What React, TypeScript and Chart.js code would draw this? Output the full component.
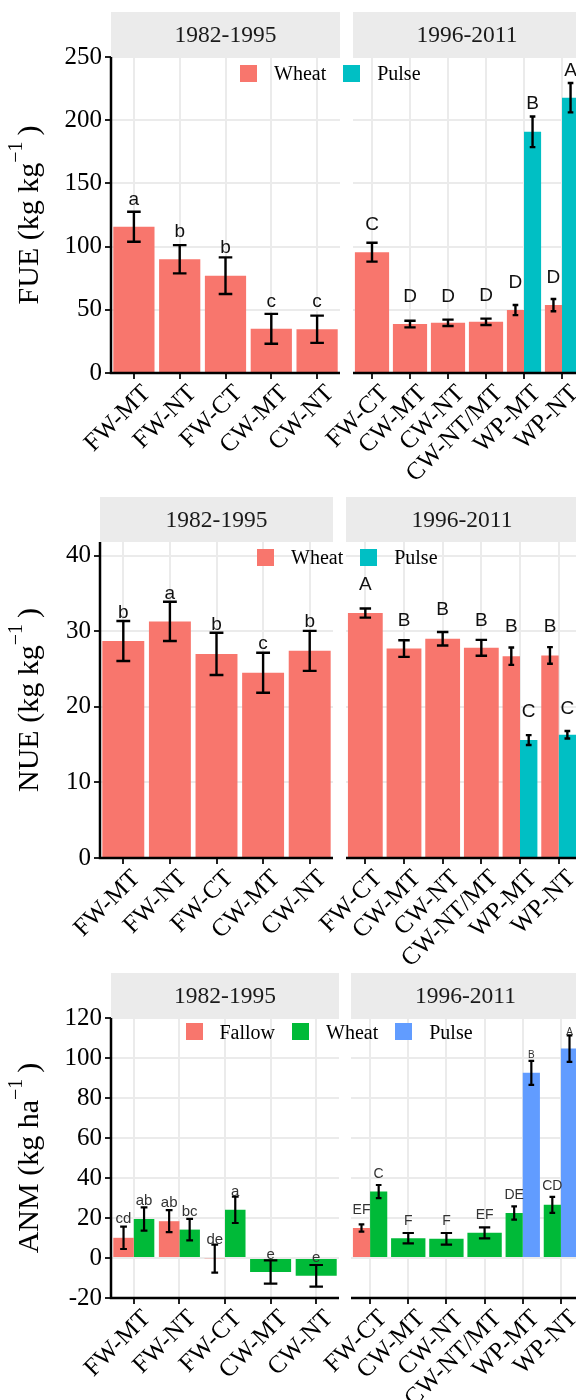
import React, { useEffect, useRef } from "react";
import { Chart, registerables } from "chart.js";

Chart.register(...registerables);

const SERIF = "'Liberation Serif', 'Times New Roman', serif";
const SANS = "'Liberation Sans', Arial, sans-serif";
const GRID = "#EBEBEB";
const STRIP_BG = "#EBEBEB";
const STRIP_H = 45;

// ---------- categories / facets ----------
const catsEarly = ["FW-MT", "FW-NT", "FW-CT", "CW-MT", "CW-NT"];
const catsLate = ["FW-CT", "CW-MT", "CW-NT", "CW-NT/MT", "WP-MT", "WP-NT"];
const periods = ["1982-1995", "1996-2011"];

// ---------- tick values ----------
const fueTicks = [0, 50, 100, 150, 200, 250];
const nueTicks = [0, 10, 20, 30, 40];
const anmTicks = [-20, 0, 20, 40, 60, 80, 100, 120];

// ---------- FUE ----------
const fueWheatEarly = [115.7, 90.0, 77.0, 35.0, 34.6];
const fueWheatEarlySE = [11.9, 11.2, 14.5, 11.8, 10.8];
const fueWheatEarlyLet = ["a", "b", "b", "c", "c"];
const fueWheatEarlyLetY = [133, 107.8, 94.7, 52.5, 52.5];

const fueWheatLate = [95.6, 38.7, 39.7, 40.5, 49.8, 53.7];
const fueWheatLateSE = [7.5, 2.6, 2.5, 2.5, 4.0, 4.9];
const fueWheatLateLet = ["C", "D", "D", "D", "D", "D"];
const fueWheatLateLetY = [113, 56, 56, 57, 67, 71];

const fuePulseLate = [null, null, null, null, 190.8, 217.8];
const fuePulseLateSE = [null, null, null, null, 12.1, 11.6];
const fuePulseLateLet = ["", "", "", "", "B", "A"];
const fuePulseLateLetY = [null, null, null, null, 208.5, 235];

// ---------- NUE ----------
const nueWheatEarly = [28.7, 31.3, 27.0, 24.5, 27.4];
const nueWheatEarlySE = [2.65, 2.6, 2.8, 2.65, 2.65];
const nueWheatEarlyLet = ["b", "a", "b", "c", "b"];
const nueWheatEarlyLetY = [31.8, 34.3, 30.1, 27.7, 30.5];

const nueWheatLate = [32.4, 27.7, 29.0, 27.8, 26.7, 26.8];
const nueWheatLateSE = [0.6, 1.1, 0.9, 1.05, 1.15, 1.1];
const nueWheatLateLet = ["A", "B", "B", "B", "B", "B"];
const nueWheatLateLetY = [35.5, 30.7, 32.1, 30.7, 29.9, 29.9];

const nuePulseLate = [null, null, null, null, 15.6, 16.3];
const nuePulseLateSE = [null, null, null, null, 0.65, 0.5];
const nuePulseLateLet = ["", "", "", "", "C", "C"];
const nuePulseLateLetY = [null, null, null, null, 18.7, 19.1];

// ---------- ANM ----------
const anmFallowEarly = [10.1, 18.4, -0.35, null, null];
const anmFallowEarlySE = [5.6, 5.5, 7.0, null, null];
const anmFallowEarlyLet = ["cd", "ab", "de", "", ""];
const anmFallowEarlyLetY = [17.5, 25.3, 6.8, null, null];

const anmWheatEarly = [19.5, 14.2, 24.1, -7.0, -8.9];
const anmWheatEarlySE = [5.8, 5.4, 6.6, 5.85, 5.4];
const anmWheatEarlyLet = ["ab", "bc", "a", "e", "e"];
const anmWheatEarlyLetY = [26.5, 21.2, 30.8, -0.3, -2.0];

const anmFallowLate = [15.0, null, null, null, null, null];
const anmFallowLateSE = [1.8, null, null, null, null, null];
const anmFallowLateLet = ["EF", "", "", "", "", ""];
const anmFallowLateLetY = [22, null, null, null, null, null];

const anmWheatLate = [33.2, 9.9, 9.6, 12.6, 22.5, 26.6];
const anmWheatLateSE = [3.3, 2.6, 2.9, 2.75, 3.3, 4.0];
const anmWheatLateLet = ["C", "F", "F", "EF", "DE", "CD"];
const anmWheatLateLetY = [40.2, 16.7, 16.7, 19.5, 29.4, 34.0];

const anmPulseLate = [null, null, null, null, 92.6, 104.7];
const anmPulseLateSE = [null, null, null, null, 6.0, 6.6];
const anmPulseLateLet = ["", "", "", "", "B", "A"];
const anmPulseLateLetY = [null, null, null, null, 99.8, 111.3];

// ---------- colours ----------
const C_RED = "#F8766D";
const C_TEAL = "#00BFC4";
const C_GREEN = "#00BA38";
const C_BLUE = "#619CFF";

type Num = number | null;
type SeriesDef = {
  name: string;
  color: string;
  values: Num[];
  se: Num[];
  letters: string[];
  letterY: Num[];
  letterPx: number;
};
type Box = {
  left: number; top: number; width: number; height: number;
  padLeft: number; padRight: number; padTop: number; xAxisH: number; yAxisW: number;
};
type PanelDef = {
  id: string;
  strip: string;
  cats: string[];
  series: SeriesDef[];
  yMin: number; yMax: number; yTicks: number[];
  yTitle: [string, string, string] | null;
  box: Box;
  letterColor: string;
  errLw: number;
};

const S = (name: string, color: string, values: Num[], se: Num[], letters: string[], letterY: Num[], letterPx: number): SeriesDef =>
  ({ name, color, values, se, letters, letterY, letterPx });

const panels: PanelDef[] = [
  {
    id: "fue-l", strip: periods[0], cats: catsEarly,
    series: [S("Wheat", C_RED, fueWheatEarly, fueWheatEarlySE, fueWheatEarlyLet, fueWheatEarlyLetY, 19)],
    yMin: 0, yMax: 250, yTicks: fueTicks, yTitle: ["FUE (kg kg", "\u22121", ")"],
    box: { left: 0, top: 0, width: 350, height: 490, padLeft: 0, padRight: 10, padTop: 57, xAxisH: 117, yAxisW: 111 },
    letterColor: "#111", errLw: 2.4,
  },
  {
    id: "fue-r", strip: periods[1], cats: catsLate,
    series: [
      S("Wheat", C_RED, fueWheatLate, fueWheatLateSE, fueWheatLateLet, fueWheatLateLetY, 19),
      S("Pulse", C_TEAL, fuePulseLate, fuePulseLateSE, fuePulseLateLet, fuePulseLateLetY, 19),
    ],
    yMin: 0, yMax: 250, yTicks: fueTicks, yTitle: null,
    box: { left: 280, top: 0, width: 321, height: 490, padLeft: 73, padRight: 20, padTop: 57, xAxisH: 117, yAxisW: 0 },
    letterColor: "#111", errLw: 2.4,
  },
  {
    id: "nue-l", strip: periods[0], cats: catsEarly,
    series: [S("Wheat", C_RED, nueWheatEarly, nueWheatEarlySE, nueWheatEarlyLet, nueWheatEarlyLetY, 19)],
    yMin: 0, yMax: 41.8, yTicks: nueTicks, yTitle: ["NUE (kg kg", "\u22121", ")"],
    box: { left: 0, top: 480, width: 343, height: 500, padLeft: 0, padRight: 10, padTop: 62, xAxisH: 122, yAxisW: 100 },
    letterColor: "#111", errLw: 2.4,
  },
  {
    id: "nue-r", strip: periods[1], cats: catsLate,
    series: [
      S("Wheat", C_RED, nueWheatLate, nueWheatLateSE, nueWheatLateLet, nueWheatLateLetY, 19),
      S("Pulse", C_TEAL, nuePulseLate, nuePulseLateSE, nuePulseLateLet, nuePulseLateLetY, 19),
    ],
    yMin: 0, yMax: 41.8, yTicks: nueTicks, yTitle: null,
    box: { left: 270, top: 480, width: 328, height: 500, padLeft: 76, padRight: 20, padTop: 62, xAxisH: 122, yAxisW: 0 },
    letterColor: "#111", errLw: 2.4,
  },
  {
    id: "anm-l", strip: periods[0], cats: catsEarly,
    series: [
      S("Fallow", C_RED, anmFallowEarly, anmFallowEarlySE, anmFallowEarlyLet, anmFallowEarlyLetY, 15),
      S("Wheat", C_GREEN, anmWheatEarly, anmWheatEarlySE, anmWheatEarlyLet, anmWheatEarlyLetY, 15),
    ],
    yMin: -20, yMax: 120, yTicks: anmTicks, yTitle: ["ANM (kg ha", "\u22121", ")"],
    box: { left: 0, top: 960, width: 349, height: 440, padLeft: 0, padRight: 10, padTop: 58, xAxisH: 102, yAxisW: 111 },
    letterColor: "#333", errLw: 2.2,
  },
  {
    id: "anm-r", strip: periods[1], cats: catsLate,
    series: [
      S("Fallow", C_RED, anmFallowLate, anmFallowLateSE, anmFallowLateLet, anmFallowLateLetY, 14),
      S("Wheat", C_GREEN, anmWheatLate, anmWheatLateSE, anmWheatLateLet, anmWheatLateLetY, 14),
      S("Pulse", C_BLUE, anmPulseLate, anmPulseLateSE, anmPulseLateLet, anmPulseLateLetY, 10),
    ],
    yMin: -20, yMax: 120, yTicks: anmTicks, yTitle: null,
    box: { left: 280, top: 960, width: 320, height: 440, padLeft: 71, padRight: 20, padTop: 58, xAxisH: 102, yAxisW: 0 },
    letterColor: "#333", errLw: 2.2,
  },
];

const legends = [
  { x: 240, yc: 73, items: [{ name: "Wheat", color: C_RED }, { name: "Pulse", color: C_TEAL }] },
  { x: 257, yc: 557, items: [{ name: "Wheat", color: C_RED }, { name: "Pulse", color: C_TEAL }] },
  { x: 185.5, yc: 1031.5, items: [{ name: "Fallow", color: C_RED }, { name: "Wheat", color: C_GREEN }, { name: "Pulse", color: C_BLUE }] },
];

function makeChart(canvas: HTMLCanvasElement, p: PanelDef) {
  const showY = !!p.yTitle;
  const b = p.box;
  const decor = {
    id: "facetDecor",
    afterDatasetsDraw(chart: any) {
      const { ctx, chartArea: ca } = chart;
      const ys = chart.scales.y;
      ctx.save();
      // error bars
      p.series.forEach((s, di) => {
        const meta = chart.getDatasetMeta(di);
        meta.data.forEach((el: any, j: number) => {
          const v = s.values[j];
          const se = s.se[j];
          if (v == null || se == null) return;
          const { x, width } = el.getProps(["x", "width"], true);
          const yT = ys.getPixelForValue(v + se);
          const yB = ys.getPixelForValue(v - se);
          const cap = (width * 0.33) / 2;
          ctx.strokeStyle = "#000";
          ctx.lineWidth = p.errLw;
          ctx.lineCap = "butt";
          ctx.beginPath();
          ctx.moveTo(x, yT); ctx.lineTo(x, yB);
          ctx.moveTo(x - cap, yT); ctx.lineTo(x + cap, yT);
          ctx.moveTo(x - cap, yB); ctx.lineTo(x + cap, yB);
          ctx.stroke();
        });
      });
      // letters
      p.series.forEach((s, di) => {
        const meta = chart.getDatasetMeta(di);
        meta.data.forEach((el: any, j: number) => {
          const t = s.letters[j];
          const ly = s.letterY[j];
          if (!t || ly == null || s.values[j] == null) return;
          const { x } = el.getProps(["x"], true);
          ctx.fillStyle = p.letterColor;
          ctx.font = `${s.letterPx}px ${SANS}`;
          ctx.textAlign = "center";
          ctx.textBaseline = "alphabetic";
          ctx.fillText(t, x, ys.getPixelForValue(ly));
        });
      });
      // axis lines
      ctx.strokeStyle = "#000";
      ctx.lineWidth = 2.5;
      ctx.beginPath();
      ctx.moveTo(ca.left - (showY ? 1.25 : 0), ca.bottom);
      ctx.lineTo(ca.right, ca.bottom);
      if (showY) {
        ctx.moveTo(ca.left, ca.top);
        ctx.lineTo(ca.left, ca.bottom);
      }
      ctx.stroke();
      ctx.restore();
    },
    afterDraw(chart: any) {
      const { ctx, chartArea: ca } = chart;
      ctx.save();
      // facet strip
      ctx.fillStyle = STRIP_BG;
      ctx.fillRect(ca.left, ca.top - STRIP_H, ca.right - ca.left, STRIP_H);
      ctx.fillStyle = "#1A1A1A";
      ctx.font = `23.5px ${SERIF}`;
      ctx.textAlign = "center";
      ctx.textBaseline = "middle";
      ctx.fillText(p.strip, (ca.left + ca.right) / 2, ca.top - STRIP_H / 2 + 1);
      // y axis title with superscript
      if (p.yTitle) {
        const [main, sup, tail] = p.yTitle;
        const big = `30px ${SERIF}`;
        const small = `20px ${SERIF}`;
        ctx.font = big;
        const w1 = ctx.measureText(main).width;
        const w3 = ctx.measureText(tail).width;
        ctx.font = small;
        const w2 = ctx.measureText(sup).width;
        const gap = 6;
        const total = w1 + w2 + gap + w3;
        const cy = (ca.top + ca.bottom) / 2;
        ctx.translate(37.5, cy);
        ctx.rotate(-Math.PI / 2);
        ctx.fillStyle = "#000";
        ctx.textAlign = "left";
        ctx.textBaseline = "alphabetic";
        let x = -total / 2;
        ctx.font = big; ctx.fillText(main, x, 0); x += w1;
        ctx.font = small; ctx.fillText(sup, x, -16); x += w2 + gap;
        ctx.font = big; ctx.fillText(tail, x, 0);
      }
      ctx.restore();
    },
  };

  return new Chart(canvas, {
    type: "bar",
    data: {
      labels: p.cats,
      datasets: p.series.map((s) => ({
        label: s.name,
        data: s.values as any,
        backgroundColor: s.color,
        borderWidth: 0,
        skipNull: true,
        categoryPercentage: 0.9,
        barPercentage: 1.0,
      })),
    },
    options: {
      responsive: false,
      animation: false,
      devicePixelRatio: 1,
      layout: { padding: { left: b.padLeft, right: b.padRight, top: b.padTop, bottom: 0 } },
      plugins: { legend: { display: false }, tooltip: { enabled: false }, title: { display: false } },
      scales: {
        x: {
          type: "category",
          offset: true,
          grid: { offset: false, color: GRID, lineWidth: 2, drawTicks: true, tickLength: 6, tickColor: "#222", tickWidth: 2 },
          border: { display: false },
          ticks: {
            autoSkip: false, maxRotation: 45, minRotation: 45, color: "#000",
            font: { family: SERIF, size: 25 }, padding: 0, labelOffset: 13,
          },
          afterFit: (s: any) => { s.height = b.xAxisH; },
        },
        y: {
          type: "linear",
          min: p.yMin,
          max: p.yMax,
          afterBuildTicks: (s: any) => { s.ticks = p.yTicks.map((v) => ({ value: v })); },
          grid: { color: GRID, lineWidth: 2, drawTicks: showY, tickLength: 6, tickColor: "#222", tickWidth: 2 },
          border: { display: false },
          ticks: { display: showY, color: "#000", font: { family: SERIF, size: 25 }, padding: 3 },
          afterFit: (s: any) => { s.width = showY ? b.yAxisW : 0; },
        },
      },
    } as any,
    plugins: [decor],
  });
}

function Panel({ p }: { p: PanelDef }) {
  const ref = useRef<HTMLCanvasElement>(null);
  useEffect(() => {
    if (!ref.current) return;
    const c = makeChart(ref.current, p);
    return () => c.destroy();
  }, [p]);
  const b = p.box;
  return (
    <canvas
      ref={ref}
      width={b.width}
      height={b.height}
      style={{ position: "absolute", left: b.left, top: b.top, width: b.width, height: b.height }}
    />
  );
}

function Legend({ x, yc, items }: { x: number; yc: number; items: { name: string; color: string }[] }) {
  return (
    <div
      style={{
        position: "absolute", left: x, top: yc - 12, height: 24, display: "flex", alignItems: "center",
        fontFamily: SERIF, fontSize: 20, color: "#000", whiteSpace: "nowrap", lineHeight: "24px",
      }}
    >
      {items.map((it) => (
        <React.Fragment key={it.name}>
          <span style={{ width: 17, height: 17, background: it.color, display: "inline-block", marginRight: 17 }} />
          <span style={{ marginRight: 17 }}>{it.name}</span>
        </React.Fragment>
      ))}
    </div>
  );
}

export default function App() {
  return (
    <div style={{ position: "absolute", left: 0, top: 0, width: 576, height: 1400, overflow: "hidden", background: "#fff" }}>
      {panels.map((p) => (
        <Panel key={p.id} p={p} />
      ))}
      {legends.map((l, i) => (
        <Legend key={i} x={l.x} yc={l.yc} items={l.items} />
      ))}
    </div>
  );
}
